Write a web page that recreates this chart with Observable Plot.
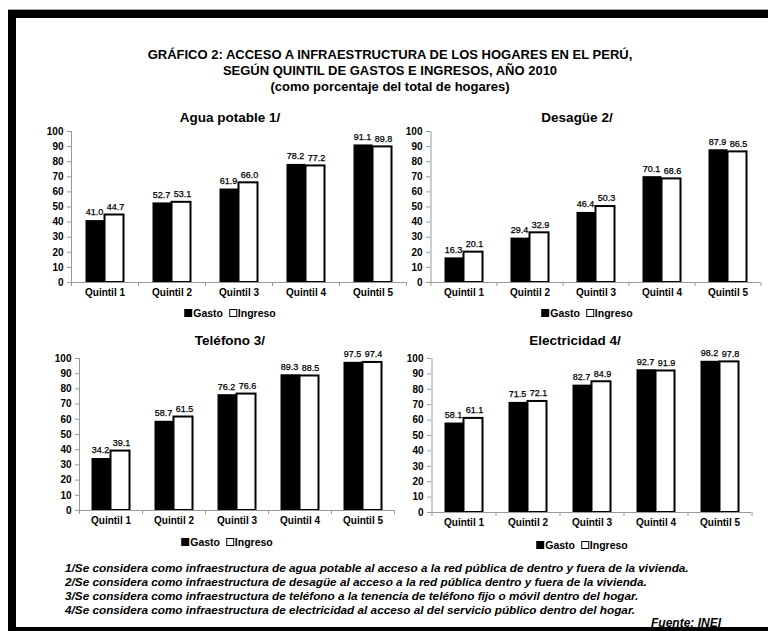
<!DOCTYPE html>
<html><head><meta charset="utf-8">
<script src="https://cdn.jsdelivr.net/npm/d3@7"></script>
<script src="https://cdn.jsdelivr.net/npm/@observablehq/plot@0.6"></script>
<style>
html,body{margin:0;padding:0;background:#fff;width:768px;height:631px;overflow:hidden;}
#root{position:relative;width:768px;height:631px;font-family:"Liberation Sans",Arial,sans-serif;color:#000;overflow:hidden;}
.frame{position:absolute;left:8px;top:10px;width:820px;height:625px;border:8px solid #000;border-right:none;box-sizing:border-box;z-index:5;pointer-events:none}
.topline{position:absolute;left:8px;top:9px;width:800px;height:1px;background:#aaa}
.narrow{font-family:"Liberation Sans Narrow","Arial Narrow","Liberation Sans",Arial,sans-serif;}
.title{position:absolute;left:0;width:780px;text-align:center;font-weight:bold;font-size:13px;line-height:16px;top:47px}
.ptitle{position:absolute;font-weight:bold;font-size:13.5px;transform:translate(-50%,-50%);white-space:nowrap}
.legend{position:absolute;font-weight:bold;font-size:10.5px;transform:translate(-50%,-50%);white-space:nowrap;display:flex;align-items:center}
.sw{display:inline-block;width:8px;height:8px;box-sizing:border-box;margin-right:1px}
.notes{position:absolute;left:65px;top:561px;font-weight:bold;font-style:italic;font-size:11.75px;line-height:14px;white-space:nowrap}
.fuente{position:absolute;left:651px;top:616px;font-weight:bold;font-style:italic;font-size:12px;text-decoration:underline;white-space:nowrap}
.panel{position:absolute}
</style>
</head><body>
<div id="root">
  <div class="topline"></div>
  <div class="frame"></div>
  <div class="title narrow">GRÁFICO 2: ACCESO A INFRAESTRUCTURA DE LOS HOGARES EN EL PERÚ,<br>SEGÚN QUINTIL DE GASTOS E INGRESOS, AÑO 2010<br>(como porcentaje del total de hogares)</div>
  <div class="notes narrow">1/Se considera como infraestructura de agua potable al acceso a la red pública de dentro y fuera de la vivienda.<br>2/Se considera como infraestructura de desagüe al acceso a la red pública dentro y fuera de la vivienda.<br>3/Se considera como infraestructura de teléfono a la tenencia de teléfono fijo o móvil dentro del hogar.<br>4/Se considera como infraestructura de electricidad al acceso al del servicio público dentro del hogar.</div>
  <div class="fuente narrow">Fuente: INEI</div>
</div>
<script>
const quintiles = ["Quintil 1", "Quintil 2", "Quintil 3", "Quintil 4", "Quintil 5"];
const seriesNames = ["Gasto", "Ingreso"];
const yTicks = [0, 10, 20, 30, 40, 50, 60, 70, 80, 90, 100];

const panelTitles = ["Agua potable 1/", "Desagüe 2/", "Teléfono 3/", "Electricidad 4/"];

const aguaGasto = [41.0, 52.7, 61.9, 78.2, 91.1];
const aguaIngreso = [44.7, 53.1, 66.0, 77.2, 89.8];
const desagueGasto = [16.3, 29.4, 46.4, 70.1, 87.9];
const desagueIngreso = [20.1, 32.9, 50.3, 68.6, 86.5];
const telefonoGasto = [34.2, 58.7, 76.2, 89.3, 97.5];
const telefonoIngreso = [39.1, 61.5, 76.6, 88.5, 97.4];
const electricidadGasto = [58.1, 71.5, 82.7, 92.7, 98.2];
const electricidadIngreso = [61.1, 72.1, 84.9, 91.9, 97.8];

const root = document.getElementById("root");

function addDiv(cls, html, x, y) {
  const d = document.createElement("div");
  d.className = cls;
  d.innerHTML = html;
  d.style.left = x + "px";
  d.style.top = y + "px";
  root.appendChild(d);
  return d;
}

function panel(cfg) {
  const {title, gasto, ingreso, x0, step, y100, y0, titleX, titleY, legX, legY} = cfg;
  const data = quintiles.flatMap((q, i) => [
    {q, s: seriesNames[0], v: gasto[i]},
    {q, s: seriesNames[1], v: ingreso[i]}
  ]);
  const bw = 19;
  const pi = 1 - bw / step;
  const marginLeft = 45, marginTop = 18, marginBottom = 24, marginRight = 4;
  const plotH = y0 - y100;
  const width = marginLeft + 5 * step + marginRight;
  const height = marginTop + plotH + marginBottom;
  const unitsPerPx = 100 / plotH;
  const g = data.filter(d => d.s === "Gasto");
  const ing = data.filter(d => d.s === "Ingreso");
  const chart = Plot.plot({
    width, height, marginLeft, marginTop, marginBottom, marginRight,
    style: {background: "transparent", overflow: "visible", maxWidth: "none", fontFamily: "'Liberation Sans', Arial, sans-serif"},
    x: {domain: quintiles, paddingInner: pi, paddingOuter: pi / 2, axis: null},
    y: {domain: [0, 100], axis: null},
    marks: [
      Plot.barY(g, {x: "q", y: "v", dx: -bw / 2, fill: "#000"}),
      Plot.barY(ing, {x: "q", y: "v", dx: bw / 2, fill: "#fff", stroke: "#000", strokeWidth: 2}),
      Plot.text(g, {x: "q", y: "v", dx: -bw / 2 - 1, dy: -8, text: d => d.v.toFixed(1), fontSize: 9, fill: "#000", stroke: "#000", strokeWidth: 0.25}),
      Plot.text(ing, {x: "q", y: "v", dx: bw / 2 + 1, dy: -8, text: d => d.v.toFixed(1), fontSize: 9, fill: "#000", stroke: "#000", strokeWidth: 0.25}),
      Plot.ruleY([0], {stroke: "#999"}),
      Plot.ruleX([quintiles[0]], {dx: -step / 2, y1: 0, y2: 100, stroke: "#999"}),
      Plot.ruleX(quintiles, {dx: -step / 2, y1: 0, y2: -4 * unitsPerPx, stroke: "#999"}),
      Plot.ruleX([quintiles[4]], {dx: step / 2, y1: 0, y2: -4 * unitsPerPx, stroke: "#999"}),
      Plot.axisY(yTicks, {tickSize: 4, tickPadding: 4, stroke: "#999", fill: "#000", fontWeight: "bold", fontSize: 10, label: null}),
      Plot.axisX(quintiles, {tickSize: 0, tickPadding: 6, fill: "#000", fontWeight: "bold", fontSize: 10, label: null})
    ]
  });
  chart.classList.add("panel");
  chart.style.position = "absolute";
  chart.style.left = (x0 - marginLeft) + "px";
  chart.style.top = (y100 - marginTop) + "px";
  root.appendChild(chart);
  addDiv("ptitle", title, titleX, titleY);
  addDiv("legend", '<span class="sw" style="background:#000"></span>Gasto&nbsp;&nbsp;<span class="sw" style="background:#fff;border:1.5px solid #000"></span>Ingreso', legX, legY);
}

panel({title: panelTitles[0], gasto: aguaGasto, ingreso: aguaIngreso, x0: 71, step: 67, y100: 131, y0: 282, titleX: 230, titleY: 117, legX: 230, legY: 313});
panel({title: panelTitles[1], gasto: desagueGasto, ingreso: desagueIngreso, x0: 430, step: 66, y100: 131, y0: 282, titleX: 577, titleY: 117, legX: 587, legY: 313});
panel({title: panelTitles[2], gasto: telefonoGasto, ingreso: telefonoIngreso, x0: 79, step: 63, y100: 358, y0: 510, titleX: 230, titleY: 340, legX: 227, legY: 542});
panel({title: panelTitles[3], gasto: electricidadGasto, ingreso: electricidadIngreso, x0: 431, step: 64, y100: 358, y0: 512, titleX: 575, titleY: 340, legX: 582, legY: 545});
</script>
</body></html>
